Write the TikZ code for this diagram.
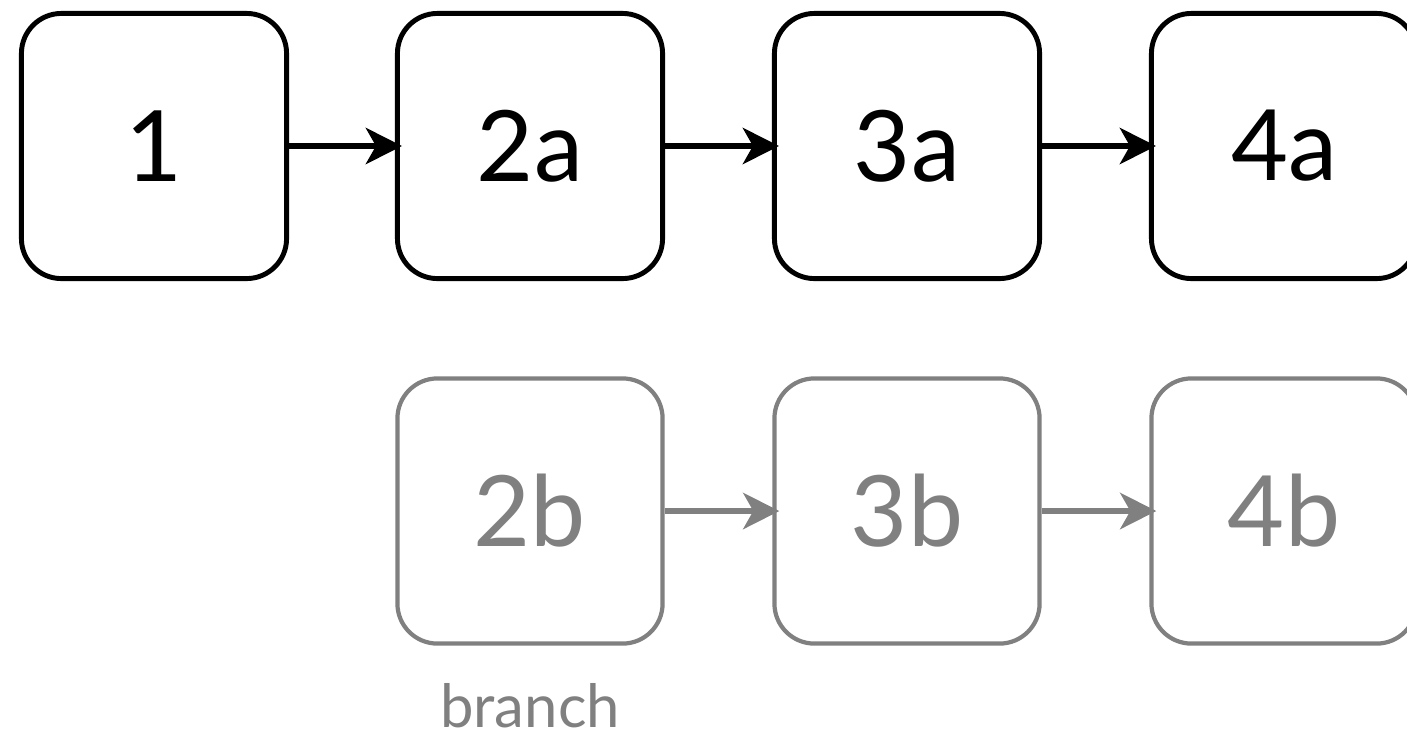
\documentclass[tikz,border=0pt]{standalone}
\usepackage{fontspec}
\setmainfont{Lato}
\usetikzlibrary{arrows.meta,positioning}
\definecolor{branchgray}{RGB}{128,128,128}

\begin{document}
\begin{tikzpicture}[x=0.01cm,y=0.01cm]
\tikzstyle{every node}+=[inner sep=0pt]
\tikzstyle{box}=[draw=black, line width=1.4pt, rounded corners=0.4cm, minimum size=2.65cm, font=\fontsize{28}{30}\selectfont]
\tikzstyle{branchbox}=[box, draw=branchgray, text=branchgray, line width=1.2pt]
\tikzstyle{link}=[line width=1.8pt, -{Stealth[length=0.36cm,width=0.36cm,inset=0.1cm]}, shorten >=-0.07cm]
\useasboundingbox (0,0) rectangle (1407,735);
% main line
\node [box] (n1) at (154,589) {1};
\node [box] (n2a) at (530,589) {2a};
\node [box] (n3a) at (907,589) {3a};
\node [box] (n4a) at (1284,589) {4a};
% branch
\node [branchbox] (n2b) at (530,224) {2b};
\node [branchbox] (n3b) at (907,224) {3b};
\node [branchbox] (n4b) at (1284,224) {4b};
\node [below=0.37cm of n2b, text=branchgray, font=\fontsize{17}{20}\selectfont] (lbl) {branch};
\draw [link] (n1) -- (n2a);
\draw [link] (n2a) -- (n3a);
\draw [link] (n3a) -- (n4a);
\draw [link, draw=branchgray] (n2b) -- (n3b);
\draw [link, draw=branchgray] (n3b) -- (n4b);
\end{tikzpicture}
\end{document}
